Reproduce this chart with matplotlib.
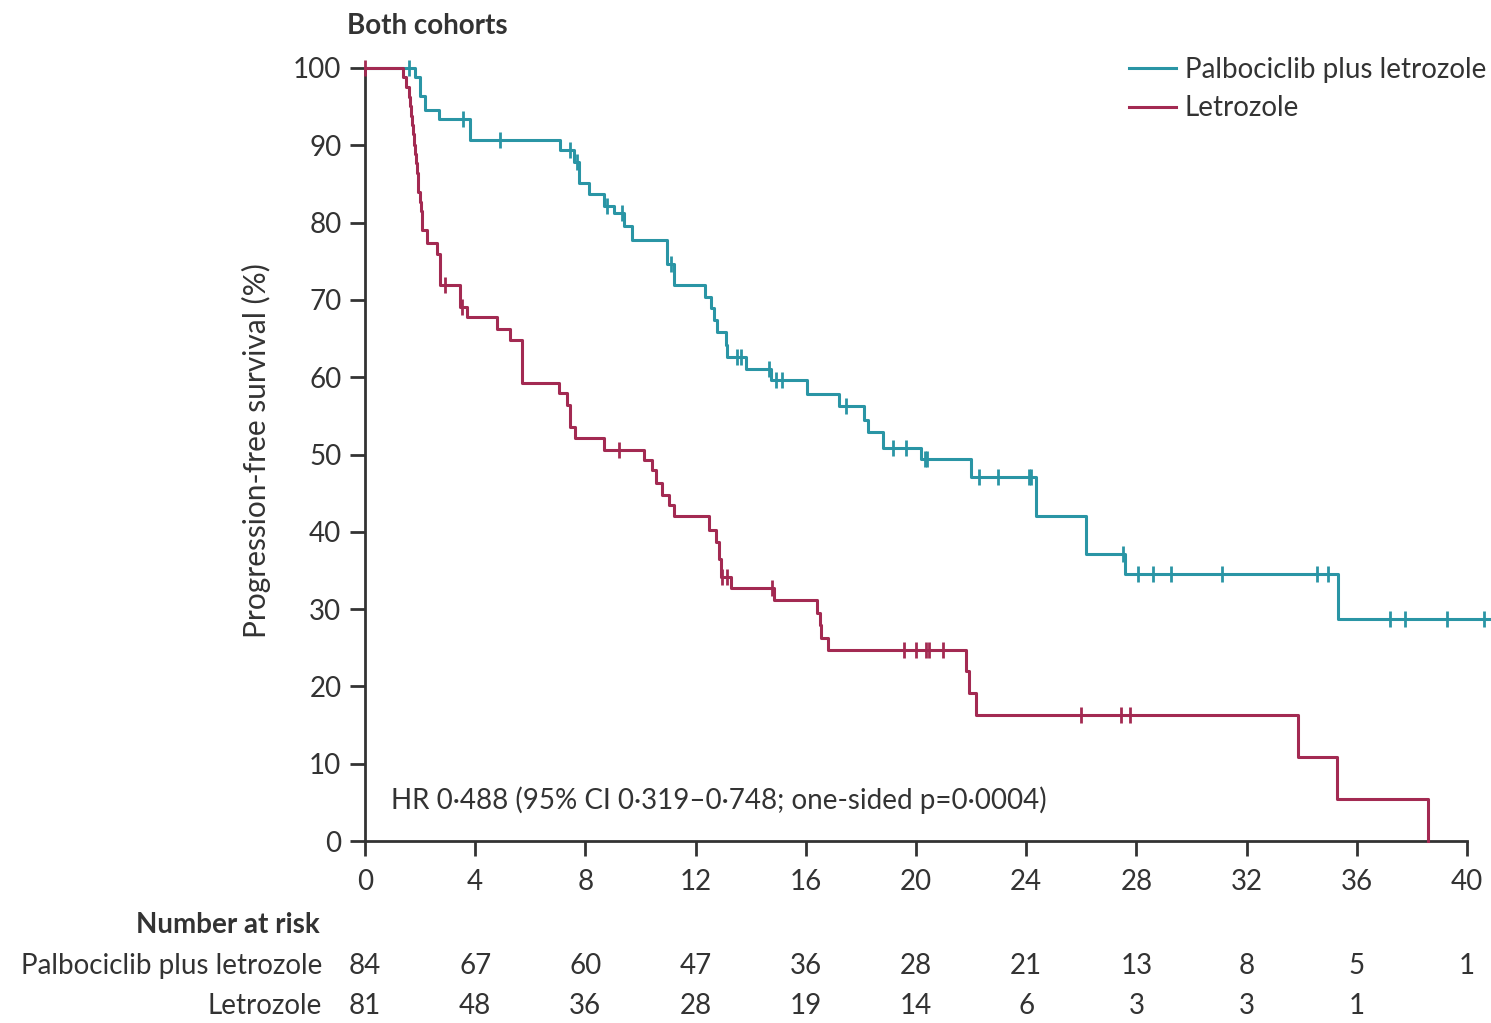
import numpy as np
import matplotlib
matplotlib.use("Agg")
import matplotlib.pyplot as plt
import matplotlib.transforms as mtransforms
from matplotlib.lines import Line2D

plt.rcParams['font.family'] = ['Lato', 'DejaVu Sans']
plt.rcParams['font.size'] = 20

# Kaplan-Meier steps: time (months) and survival (%) after each drop
palbo_t = [0, 1.82, 2.00, 2.18, 2.67, 3.82, 7.09, 7.58, 7.76, 8.12, 8.67, 9.03, 9.39, 9.70,
           10.97, 11.21, 12.33, 12.55, 12.67, 12.79, 13.09, 13.15, 13.82, 14.73, 16.06,
           17.21, 18.12, 18.24, 18.79, 20.18, 22.00, 24.36, 26.18, 27.58, 35.31, 40.9]
palbo_s = [100, 98.8, 96.4, 94.6, 93.4, 90.7, 89.4, 87.9, 85.1, 83.7, 82.1, 81.2, 79.5, 77.7,
           74.7, 71.9, 70.4, 68.9, 67.4, 65.8, 64.2, 62.6, 61.1, 59.6, 57.8,
           56.3, 54.4, 52.9, 50.9, 49.4, 47.1, 42.1, 37.1, 34.6, 28.7, 28.7]
palbo_cens = [1.58, 3.55, 4.89, 7.45, 7.70, 8.79, 9.33, 11.09, 13.52, 13.64, 14.67, 14.91,
              15.15, 17.45, 19.15, 19.64, 20.33, 20.40, 22.30, 22.97, 24.10, 24.17, 27.52,
              28.06, 28.60, 29.27, 31.12, 34.55, 34.97, 37.21, 37.76, 39.27, 40.60]

letro_t = [0, 1.39, 1.50, 1.58, 1.62, 1.66, 1.70, 1.74, 1.78, 1.82, 1.85, 1.88, 1.91, 1.94,
           1.98, 2.02, 2.06, 2.24, 2.61, 2.73, 3.45, 3.70, 4.79, 5.27, 5.70, 7.03, 7.33,
           7.45, 7.64, 8.67, 10.12, 10.42, 10.55, 10.79, 11.03, 11.21, 12.48, 12.73, 12.85,
           12.91, 13.27, 14.85, 16.42, 16.50, 16.55, 16.79, 21.82, 21.92, 22.18, 33.85,
           35.27, 38.58]
letro_s = [100, 98.8, 97.5, 96.3, 95.1, 93.8, 92.6, 91.4, 90.1, 88.9, 87.7, 86.4, 85.2, 84.0,
           82.7, 81.5, 79.0, 77.3, 76.0, 71.9, 69.1, 67.8, 66.3, 64.8, 59.2, 57.9, 56.4,
           53.6, 52.1, 50.6, 49.3, 48.0, 46.3, 44.8, 43.5, 42.0, 40.2, 38.7, 36.5,
           34.2, 32.7, 31.2, 29.5, 27.9, 26.2, 24.7, 22.0, 19.1, 16.3, 10.9,
           5.4, 0]
letro_cens = [0.0, 2.91, 3.52, 9.21, 12.97, 13.13, 14.79, 19.58, 20.00, 20.36, 20.48, 20.97,
              26.00, 27.45, 27.76]

risk_times = [0, 4, 8, 12, 16, 20, 24, 28, 32, 36, 40]
palbo_risk = [84, 67, 60, 47, 36, 28, 21, 13, 8, 5, 1]
letro_risk = [81, 48, 36, 28, 19, 14, 6, 3, 3, 1, None]

teal = '#2a95a5'
crimson = '#a32a52'
ink = '#333333'


def at(times, surv, t):
    i = np.searchsorted(times, t, side='right') - 1
    return np.asarray(surv)[i]


fig = plt.figure(figsize=(14.91, 10.23), dpi=100)
ax = fig.add_axes([365 / 1491, 1 - 841 / 1023, 1102 / 1491, 773 / 1023])

for t, s, c, cens in [(palbo_t, palbo_s, teal, palbo_cens),
                      (letro_t, letro_s, crimson, letro_cens)]:
    ax.step(t, s, where='post', color=c, lw=2.2, clip_on=False, zorder=3)
    ax.plot(cens, at(t, s, cens), ls='none', marker='|', ms=12, mew=2.0,
            color=c, clip_on=False, zorder=4)

ax.set_xlim(0, 40)
ax.set_ylim(0, 100)
ax.set_xticks(range(0, 41, 4))
ax.set_yticks(range(0, 101, 10))
for side in ['top', 'right']:
    ax.spines[side].set_visible(False)
for side in ['left', 'bottom']:
    ax.spines[side].set_color(ink)
    ax.spines[side].set_linewidth(2.0)
ax.tick_params(direction='out', length=11, width=2.0, color=ink, labelcolor=ink,
               labelsize=20)
ax.tick_params(axis='x', pad=9)
ax.tick_params(axis='y', pad=6)

ax.set_ylabel('Progression-free survival (%)', color=ink, fontsize=21.5)
ax.yaxis.set_label_coords(-0.085, 0.505)

ax.text(-0.016, 1.054, 'Both cohorts', transform=ax.transAxes, fontweight='bold',
        ha='left', va='center', color=ink)

ax.text(0.95, 5.3, 'HR 0·488 (95% CI 0·319–0·748; one-sided p=0·0004)',
        ha='left', va='center', color=ink)

handles = [Line2D([], [], color=teal, lw=2.2), Line2D([], [], color=crimson, lw=2.2)]
fig.legend(handles, ['Palbociclib plus letrozole', 'Letrozole'], loc='upper right',
           bbox_to_anchor=(1486 / 1491, 1 - 57 / 1023), frameon=False, borderpad=0,
           borderaxespad=0, handlelength=1.7, handletextpad=0.3, labelspacing=0.45,
           labelcolor=ink)

# number at risk table
tr = mtransforms.blended_transform_factory(ax.transData, fig.transFigure)
fig.text(320 / 1491, 1 - 925 / 1023, 'Number at risk', fontweight='bold',
         ha='right', va='center', color=ink)
fig.text(322 / 1491, 1 - 966 / 1023, 'Palbociclib plus letrozole', ha='right',
         va='center', color=ink)
fig.text(322 / 1491, 1 - 1006 / 1023, 'Letrozole', ha='right', va='center', color=ink)
for x, a, b in zip(risk_times, palbo_risk, letro_risk):
    ax.text(x, 1 - 966 / 1023, str(a), transform=tr, ha='center', va='center', color=ink)
    if b is not None:
        ax.text(x, 1 - 1006 / 1023, str(b), transform=tr, ha='center', va='center',
                color=ink)

fig.savefig('out.png', dpi=100, facecolor='white')
